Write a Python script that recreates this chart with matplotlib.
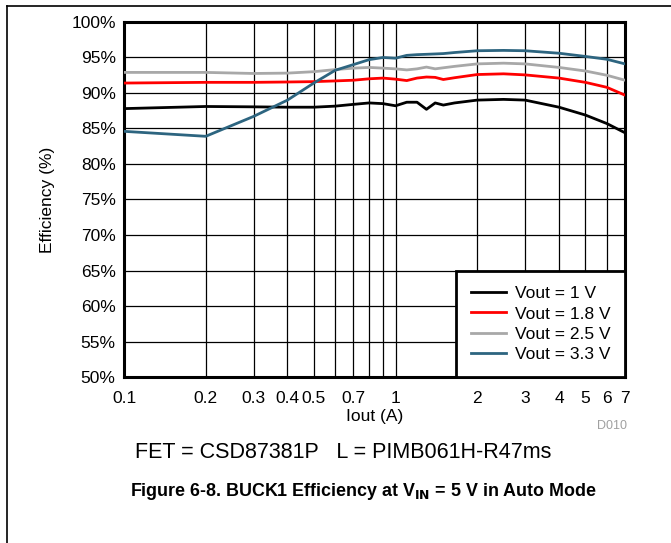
import matplotlib
matplotlib.use("Agg")
import matplotlib.pyplot as plt
from matplotlib.lines import Line2D
from matplotlib.ticker import FixedLocator, NullFormatter, NullLocator

plt.rcParams['font.family'] = ['Liberation Sans', 'DejaVu Sans']

# Output current (A)
iout = [0.1, 0.2, 0.3, 0.4, 0.5, 0.6, 0.7, 0.8, 0.9, 1.0, 1.1, 1.2, 1.3, 1.4,
        1.5, 1.65, 2.0, 2.5, 3.0, 4.0, 5.0, 6.0, 7.0]

# Efficiency (%) per output voltage
eff_1v0 = [87.8, 88.1, 88.05, 88.0, 88.0, 88.15, 88.4, 88.6, 88.5, 88.2, 88.7,
           88.7, 87.7, 88.6, 88.3, 88.6, 89.0, 89.1, 89.0, 88.0, 86.9, 85.7, 84.4]
eff_1v8 = [91.4, 91.5, 91.5, 91.55, 91.6, 91.7, 91.8, 92.0, 92.1, 91.95, 91.75,
           92.1, 92.25, 92.2, 91.9, 92.15, 92.6, 92.7, 92.55, 92.1, 91.5, 90.8, 89.7]
eff_2v5 = [92.9, 92.9, 92.75, 92.8, 93.0, 93.3, 93.5, 93.6, 93.5, 93.4, 93.25,
           93.4, 93.65, 93.4, 93.55, 93.75, 94.1, 94.2, 94.1, 93.6, 93.1, 92.5, 91.8]
eff_3v3 = [84.6, 83.9, 86.7, 89.0, 91.4, 93.2, 94.0, 94.7, 95.0, 94.9, 95.3,
           95.4, 95.45, 95.5, 95.55, 95.7, 95.95, 96.0, 95.95, 95.6, 95.15, 94.75, 94.1]

labels = ['Vout = 1 V', 'Vout = 1.8 V', 'Vout = 2.5 V', 'Vout = 3.3 V']
colors = ['#000000', '#ff0000', '#a8a8a8', '#2d6580']

x_labels = [0.1, 0.2, 0.3, 0.4, 0.5, 0.7, 1, 2, 3, 4, 5, 6, 7]
x_grid = [0.2, 0.3, 0.4, 0.5, 0.6, 0.7, 0.8, 0.9, 1, 2, 3, 4, 5, 6]
y_ticks = list(range(50, 101, 5))

fig = plt.figure(figsize=(6.71, 5.43), dpi=100)
ax = fig.add_axes([0.1848, 0.3057, 0.7466, 0.6538])

for y, lab, c in zip([eff_1v0, eff_1v8, eff_2v5, eff_3v3], labels, colors):
    ax.plot(iout, y, color=c, lw=2.0, label=lab, zorder=3)

ax.set_xscale('log')
ax.set_xlim(0.1, 7)
ax.set_ylim(50, 100)

ax.xaxis.set_major_locator(FixedLocator(x_labels))
ax.xaxis.set_major_formatter(plt.FuncFormatter(lambda v, p: f'{v:g}'))
ax.xaxis.set_minor_locator(NullLocator())
ax.xaxis.set_minor_formatter(NullFormatter())
ax.set_yticks(y_ticks)
ax.set_yticklabels([f'{v}%' for v in y_ticks])
ax.tick_params(axis='both', length=0, labelsize=12.5)
ax.tick_params(axis='x', pad=10)
ax.tick_params(axis='y', pad=6)

for g in x_grid:
    ax.axvline(g, color='black', lw=0.9, zorder=1)
for g in y_ticks[1:-1]:
    ax.axhline(g, color='black', lw=0.9, zorder=1)

for s in ax.spines.values():
    s.set_linewidth(2.2)

ax.set_xlabel('Iout (A)', fontsize=12.5, labelpad=2)
ax.set_ylabel('Efficiency (%)', fontsize=12.5, labelpad=12)

leg = ax.legend(loc='lower right', fontsize=12.5, frameon=True, fancybox=False,
                framealpha=1, edgecolor='black', borderaxespad=0,
                handlelength=2.0, handletextpad=0.5, labelspacing=0.3,
                borderpad=0.85)
leg.get_frame().set_linewidth(2.0)

fig.text(0.935, 0.216, 'D010', fontsize=9, color='#a0a0a0', ha='right', va='center')
fig.text(0.512, 0.166, 'FET = CSD87381P   L = PIMB061H-R47ms', fontsize=15.5,
         ha='center', va='center')
fig.text(0.541, 0.094, r'Figure 6-8. BUCK1 Efficiency at V$_{\mathbf{IN}}$ = 5 V in Auto Mode',
         fontsize=12.9, fontweight='bold', ha='center', va='center')

# frame edges on the left and top of the page
fig.add_artist(Line2D([7 / 671, 7 / 671], [0, 1 - 6 / 543], color='black', lw=1.2))
fig.add_artist(Line2D([7 / 671, 1], [1 - 6 / 543, 1 - 6 / 543], color='black', lw=1.2))

fig.savefig('out.png', dpi=100)
